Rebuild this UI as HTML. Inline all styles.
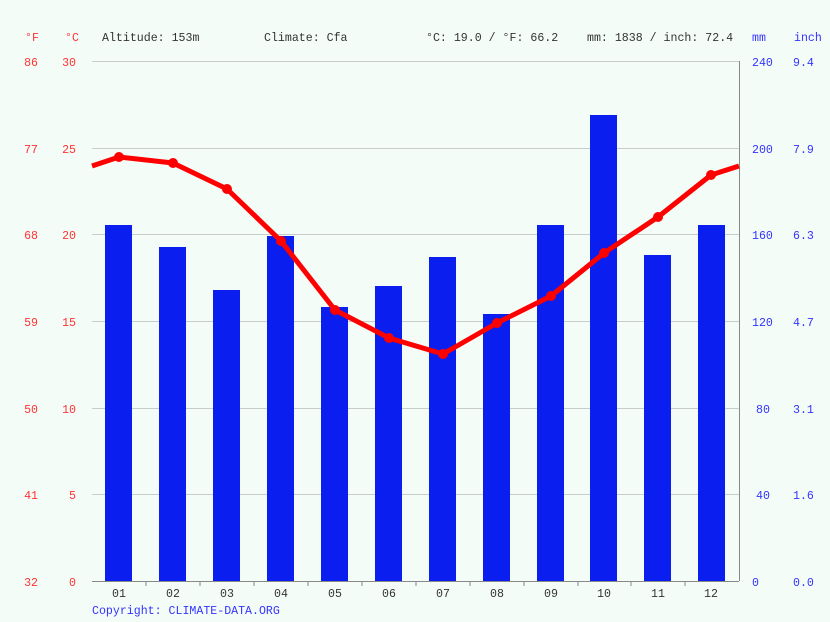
<!DOCTYPE html>
<html><head><meta charset="utf-8"><style>
body{margin:0;background:#f4fcf8;}
svg{display:block;font-family:"Liberation Mono",monospace;}
</style></head><body>
<svg width="830" height="622" xmlns="http://www.w3.org/2000/svg">
<rect width="830" height="622" fill="#f4fcf8"/>
<g font-size="11.6">
<text x="25" y="41" fill="#ff3333">°F</text>
<text x="65" y="41" fill="#ff3333">°C</text>
<text x="102" y="41" fill="#333">Altitude: 153m</text>
<text x="264" y="41" fill="#333">Climate: Cfa</text>
<text x="426" y="41" fill="#333">°C: 19.0 / °F: 66.2</text>
<text x="587" y="41" fill="#333">mm: 1838 / inch: 72.4</text>
<text x="752" y="41" fill="#3333ff">mm</text>
<text x="794" y="41" fill="#3333ff">inch</text>
</g>
<g stroke="#c8cccc" stroke-width="1">
<line x1="92" y1="61.5" x2="739" y2="61.5"/>
<line x1="92" y1="148.5" x2="739" y2="148.5"/>
<line x1="92" y1="234.5" x2="739" y2="234.5"/>
<line x1="92" y1="321.5" x2="739" y2="321.5"/>
<line x1="92" y1="408.5" x2="739" y2="408.5"/>
<line x1="92" y1="494.5" x2="739" y2="494.5"/>
</g>
<line x1="739.5" y1="61" x2="739.5" y2="581" stroke="#888"/>
<line x1="92" y1="581.5" x2="739" y2="581.5" stroke="#888"/>
<g font-size="11.6" fill="#ff3333" text-anchor="end">
<text x="38" y="66">86</text><text x="76" y="66">30</text>
<text x="38" y="153">77</text><text x="76" y="153">25</text>
<text x="38" y="239">68</text><text x="76" y="239">20</text>
<text x="38" y="326">59</text><text x="76" y="326">15</text>
<text x="38" y="413">50</text><text x="76" y="413">10</text>
<text x="38" y="499">41</text><text x="76" y="499">5</text>
<text x="38" y="586">32</text><text x="76" y="586">0</text>
</g>
<g font-size="11.6" fill="#3333ff">
<text x="752" y="66">240</text><text x="793" y="66">9.4</text>
<text x="752" y="153">200</text><text x="793" y="153">7.9</text>
<text x="752" y="239">160</text><text x="793" y="239">6.3</text>
<text x="752" y="326">120</text><text x="793" y="326">4.7</text>
<text x="756" y="413">80</text><text x="793" y="413">3.1</text>
<text x="756" y="499">40</text><text x="793" y="499">1.6</text>
<text x="752" y="586">0</text><text x="793" y="586">0.0</text>
</g>
<g fill="#0a1ef0">
<rect x="105" y="225" width="27" height="356"/>
<rect x="159" y="247" width="27" height="334"/>
<rect x="213" y="290" width="27" height="291"/>
<rect x="267" y="236" width="27" height="345"/>
<rect x="321" y="307" width="27" height="274"/>
<rect x="375" y="286" width="27" height="295"/>
<rect x="429" y="257" width="27" height="324"/>
<rect x="483" y="314" width="27" height="267"/>
<rect x="537" y="225" width="27" height="356"/>
<rect x="590" y="115" width="27" height="466"/>
<rect x="644" y="255" width="27" height="326"/>
<rect x="698" y="225" width="27" height="356"/>
</g>
<g stroke="#888">
<line x1="146" y1="581" x2="146" y2="586"/><line x1="200" y1="581" x2="200" y2="586"/>
<line x1="254" y1="581" x2="254" y2="586"/><line x1="308" y1="581" x2="308" y2="586"/>
<line x1="362" y1="581" x2="362" y2="586"/><line x1="416" y1="581" x2="416" y2="586"/>
<line x1="470" y1="581" x2="470" y2="586"/><line x1="524" y1="581" x2="524" y2="586"/>
<line x1="578" y1="581" x2="578" y2="586"/><line x1="631" y1="581" x2="631" y2="586"/>
<line x1="685" y1="581" x2="685" y2="586"/>
</g>
<g font-size="11.6" fill="#333" text-anchor="middle">
<text x="119" y="597">01</text><text x="173" y="597">02</text><text x="227" y="597">03</text>
<text x="281" y="597">04</text><text x="335" y="597">05</text><text x="389" y="597">06</text>
<text x="443" y="597">07</text><text x="497" y="597">08</text><text x="551" y="597">09</text>
<text x="604" y="597">10</text><text x="658" y="597">11</text><text x="711" y="597">12</text>
</g>
<polyline fill="none" stroke="#ff0000" stroke-width="5" stroke-linejoin="round"
points="92,166 119,157 173,163 227,189 281,241 335,310 389,338 443,354 497,323 551,296 604,253 658,217 711,175 739,166"/>
<g fill="#ff0000">
<circle cx="119" cy="157" r="5"/><circle cx="173" cy="163" r="5"/><circle cx="227" cy="189" r="5"/>
<circle cx="281" cy="241" r="5"/><circle cx="335" cy="310" r="5"/><circle cx="389" cy="338" r="5"/>
<circle cx="443" cy="354" r="5"/><circle cx="497" cy="323" r="5"/><circle cx="551" cy="296" r="5"/>
<circle cx="604" cy="253" r="5"/><circle cx="658" cy="217" r="5"/><circle cx="711" cy="175" r="5"/>
</g>
<text x="92" y="614" font-size="11.6" fill="#3333ff">Copyright: CLIMATE-DATA.ORG</text>
</svg>
</body></html>
